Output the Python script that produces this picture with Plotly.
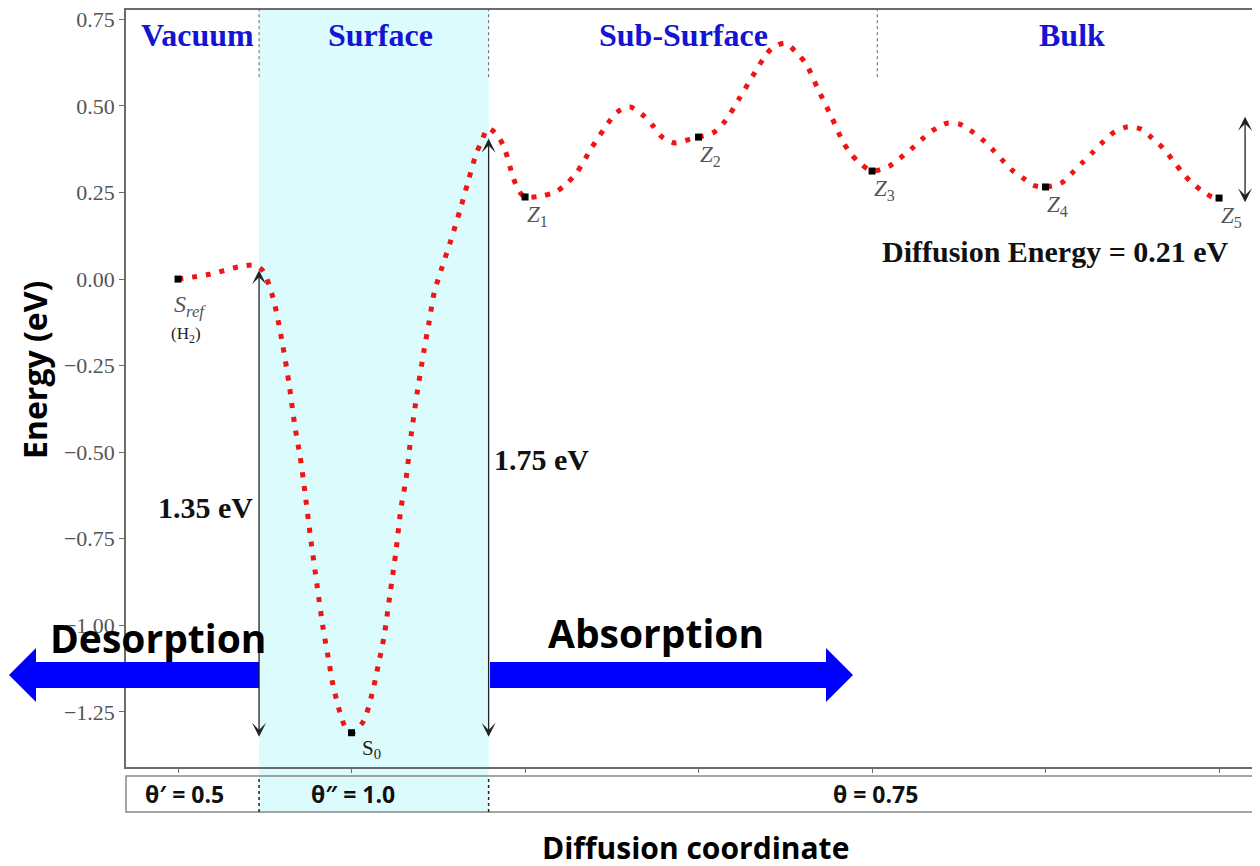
import plotly.graph_objects as go

# ---------------- data ----------------
# stationary points along the diffusion coordinate
point_names = ["S_ref", "S0", "Z1", "Z2", "Z3", "Z4", "Z5"]
point_x = [0, 1, 2, 3, 4, 5, 6]
point_energy = [0.00, -1.31, 0.237, 0.41, 0.312, 0.266, 0.234]

# dotted energy path
path_x = [0.0, 0.184, 0.346, 0.444, 0.490, 0.548, 0.599, 0.640, 0.674, 0.703, 0.726, 0.767,
          0.801, 0.836, 0.865, 0.893, 0.934, 0.963, 1.0, 1.066, 1.118, 1.153, 1.187, 1.222,
          1.256, 1.285, 1.314, 1.343, 1.378, 1.418, 1.447, 1.476, 1.522, 1.573, 1.625, 1.671,
          1.718, 1.752, 1.787, 1.844, 1.885, 1.931, 1.965, 2.0, 2.098, 2.184, 2.242, 2.300,
          2.386, 2.478, 2.530, 2.605, 2.680, 2.738, 2.790, 2.865, 2.951, 3.0, 3.089, 3.153,
          3.239, 3.326, 3.372, 3.424, 3.499, 3.568, 3.620, 3.689, 3.764, 3.833, 3.879, 3.937,
          4.0, 4.098, 4.161, 4.225, 4.288, 4.352, 4.432, 4.507, 4.582, 4.640, 4.703, 4.761,
          4.813, 4.870, 4.928, 5.0, 5.089, 5.153, 5.210, 5.274, 5.331, 5.395, 5.470, 5.550,
          5.614, 5.677, 5.729, 5.781, 5.833, 5.896, 5.960, 6.0]
path_energy = [0.0, 0.014, 0.035, 0.040, 0.023, -0.055, -0.179, -0.303, -0.427, -0.511, -0.595, -0.759,
               -0.883, -1.008, -1.091, -1.172, -1.253, -1.293, -1.31, -1.279, -1.198, -1.117, -1.033, -0.909,
               -0.785, -0.661, -0.577, -0.453, -0.329, -0.205, -0.124, -0.040, 0.035, 0.113, 0.199, 0.280,
               0.361, 0.401, 0.436, 0.413, 0.372, 0.294, 0.254, 0.237, 0.240, 0.254, 0.277, 0.309,
               0.381, 0.450, 0.482, 0.497, 0.473, 0.442, 0.410, 0.393, 0.404, 0.41, 0.424, 0.456,
               0.525, 0.598, 0.635, 0.667, 0.681, 0.652, 0.621, 0.548, 0.471, 0.396, 0.361, 0.332,
               0.312, 0.326, 0.349, 0.375, 0.404, 0.430, 0.450, 0.447, 0.424, 0.401, 0.370, 0.338,
               0.312, 0.292, 0.271, 0.266, 0.277, 0.306, 0.335, 0.367, 0.396, 0.424, 0.439, 0.433,
               0.407, 0.378, 0.346, 0.312, 0.283, 0.257, 0.237, 0.234]

# regions
region_names = ["Vacuum", "Surface", "Sub-Surface", "Bulk"]
region_label_x = [0.11, 1.164, 2.916, 5.153]
region_bounds = [0.467, 1.79, 4.03]

# coverage strip
theta_labels = ["θ′ = 0.5", "θ″ = 1.0", "θ = 0.75"]
theta_x = [0.035, 1.01, 4.02]

# energy arrows (x, top, bottom) and their labels
arrow_x = [0.467, 1.79, 6.15]
arrow_top = [0.03, 0.41, 0.473]
arrow_bottom = [-1.322, -1.322, 0.222]
arrow_labels = ["1.35 eV", "1.75 eV", "Diffusion Energy = 0.21 eV"]
arrow_label_x = [0.156, 2.092, 5.055]
arrow_label_y = [-0.661, -0.520, 0.081]

y_ticks = [0.75, 0.50, 0.25, 0.00, -0.25, -0.50, -0.75, -1.00, -1.25]

# ---------------- figure ----------------
SERIF = "Liberation Serif"
SANS = "Open Sans"
BLUE = "#1414d2"
ARROW_BLUE = "#0000ff"

fig = go.Figure()

fig.add_trace(go.Scatter(
    x=path_x, y=path_energy, mode="lines",
    line=dict(color="#f01414", width=5, dash="5px,9px", shape="spline", smoothing=0.8),
    hoverinfo="skip"))

fig.add_trace(go.Scatter(
    x=point_x, y=point_energy, mode="markers",
    marker=dict(symbol="square", size=7, color="black"),
    text=point_names, hoverinfo="text"))

shapes = []
# cyan surface band (extends down through the coverage strip)
shapes.append(dict(type="rect", xref="x", yref="paper", x0=region_bounds[0], x1=region_bounds[1],
                   y0=-0.0594, y1=1, fillcolor="#dbfbfd", line=dict(width=0), layer="below"))
# coverage strip box
shapes.append(dict(type="rect", xref="paper", yref="paper", x0=0, x1=1.02, y0=-0.0594, y1=-0.0119,
                   line=dict(color="#888888", width=1.5), fillcolor="rgba(0,0,0,0)", layer="above"))
for b in region_bounds[:2]:
    shapes.append(dict(type="line", xref="x", yref="paper", x0=b, x1=b, y0=-0.0594, y1=-0.0119,
                       line=dict(color="#222222", width=1.5, dash="dot"), layer="above"))
for b in region_bounds:
    shapes.append(dict(type="line", xref="x", yref="y", x0=b, x1=b, y0=0.583, y1=0.777,
                       line=dict(color="#666666", width=1, dash="dot"), layer="above"))
# shafts of the blue block arrows
shapes.append(dict(type="rect", xref="paper", yref="paper", x0=-0.0794, x1=0.1173, y0=0.1044, y1=0.1387,
                   fillcolor=ARROW_BLUE, line=dict(width=0), layer="above"))
shapes.append(dict(type="rect", xref="paper", yref="paper", x0=0.3210, x1=0.6190, y0=0.1044, y1=0.1387,
                   fillcolor=ARROW_BLUE, line=dict(width=0), layer="above"))

C = dict(xanchor="center", yanchor="middle")
annotations = []
# region titles
for name, x in zip(region_names, region_label_x):
    annotations.append(dict(x=x, y=0.704, xref="x", yref="y", text=f"<b>{name}</b>", showarrow=False,
                            font=dict(family=SERIF, size=32, color=BLUE), **C))
# point labels
for name, x, e in zip(point_names, point_x, point_energy):
    if name == "S_ref":
        annotations.append(dict(x=x, y=e, xref="x", yref="y", showarrow=False,
                                text="<i>S</i><sub><i>ref</i></sub>", xshift=12, yshift=-27,
                                font=dict(family=SERIF, size=24, color="#555555"), **C))
        annotations.append(dict(x=x, y=e, xref="x", yref="y", showarrow=False,
                                text="(H<sub>2</sub>)", xshift=8, yshift=-56,
                                font=dict(family=SERIF, size=17, color="#222222"), **C))
    elif name == "S0":
        annotations.append(dict(x=x, y=e, xref="x", yref="y", showarrow=False,
                                text="S<sub>0</sub>", xshift=20, yshift=-16,
                                font=dict(family=SERIF, size=21, color="#222222"), **C))
    else:
        annotations.append(dict(x=x, y=e, xref="x", yref="y", showarrow=False,
                                text=f"<i>Z</i><sub>{name[1]}</sub>", xshift=12, yshift=-19,
                                font=dict(family=SERIF, size=23, color="#555555"), **C))
# black double-headed energy arrows
for x, top, bot in zip(arrow_x, arrow_top, arrow_bottom):
    annotations.append(dict(x=x, y=bot, ax=x, ay=top, xref="x", yref="y", axref="x", ayref="y",
                            text="", showarrow=True, arrowside="end+start",
                            arrowhead=3, startarrowhead=3, arrowsize=1.8, startarrowsize=1.8,
                            arrowwidth=1.3, arrowcolor="#222222"))
for t, x, y in zip(arrow_labels, arrow_label_x, arrow_label_y):
    annotations.append(dict(x=x, y=y, xref="x", yref="y", text=f"<b>{t}</b>", showarrow=False,
                            font=dict(family=SERIF, size=30, color="#111111"), **C))
# coverage labels
for t, x in zip(theta_labels, theta_x):
    annotations.append(dict(x=x, y=-0.0357, xref="x", yref="paper", text=f"<b>{t}</b>", showarrow=False,
                            font=dict(family=SANS, size=23, color="#111111"), **C))
# heads of the blue block arrows
annotations.append(dict(x=-0.1032, y=0.1215, xref="paper", yref="paper", ax=60, ay=0,
                        text="", showarrow=True, arrowhead=1, arrowsize=9, arrowwidth=1,
                        arrowcolor=ARROW_BLUE))
annotations.append(dict(x=0.6411, y=0.1215, xref="paper", yref="paper", ax=-60, ay=0,
                        text="", showarrow=True, arrowhead=1, arrowsize=9, arrowwidth=1,
                        arrowcolor=ARROW_BLUE))
annotations.append(dict(x=-0.115, y=-1.034, xref="x", yref="y", text="<b>Desorption</b>", showarrow=False,
                        font=dict(family=SANS, size=39, color="black"), **C))
annotations.append(dict(x=2.755, y=-1.022, xref="x", yref="y", text="<b>Absorption</b>", showarrow=False,
                        font=dict(family=SANS, size=39, color="black"), **C))
# axis titles
annotations.append(dict(x=-0.0802, y=0.5245, xref="paper", yref="paper", text="<b>Energy (eV)</b>",
                        textangle=-90, showarrow=False, font=dict(family=SANS, size=32, color="black"), **C))
annotations.append(dict(x=0.5018, y=-0.1070, xref="paper", yref="paper", text="<b>Diffusion coordinate</b>",
                        showarrow=False, font=dict(family=SANS, size=30, color="black"), **C))

# the page body adds an 8 px margin, so the figure is 8 px smaller and the margins shifted
fig.update_layout(
    width=1252, height=866,
    margin=dict(l=118, r=0, t=2, b=107),
    paper_bgcolor="white", plot_bgcolor="white",
    showlegend=False,
    shapes=shapes, annotations=annotations,
    xaxis=dict(range=[-0.30, 6.236], showgrid=False, zeroline=False,
               showline=True, linecolor="#6b6b6b", linewidth=1.5, mirror=True,
               tickvals=point_x, ticks="outside", ticklen=4, tickcolor="#6b6b6b",
               showticklabels=False),
    yaxis=dict(range=[-1.409, 0.777], showgrid=False, zeroline=False,
               showline=True, linecolor="#6b6b6b", linewidth=1.5,
               tickvals=y_ticks, tickformat=".2f", ticks="outside", ticklen=5, tickcolor="#6b6b6b",
               ticklabeloverflow="allow",
               tickfont=dict(family=SERIF, size=22, color="#555555")),
)

fig.write_html("out.html")
